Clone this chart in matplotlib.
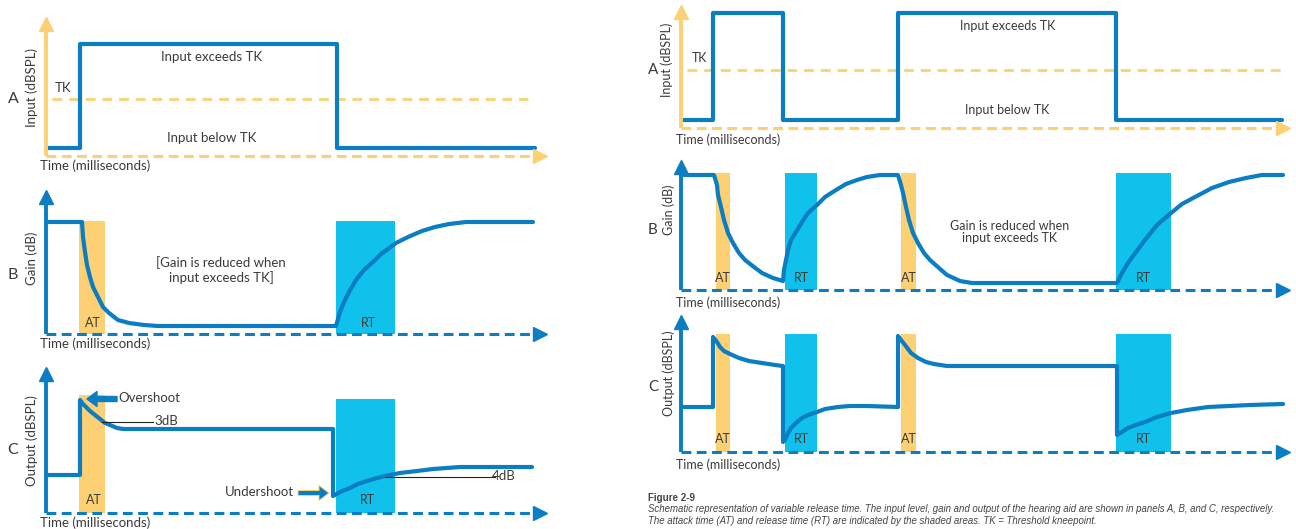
import matplotlib
matplotlib.use("Agg")
import matplotlib.pyplot as plt

W, H = 1296, 529
BLUE = "#0b7dc2"
ORANGE = "#fdd073"
CYAN = "#10c1ec"
TXT = "#3a3a3a"

plt.rcParams["font.family"] = ["Lato", "DejaVu Sans"]

# schematic units: time in ms, level in arbitrary dB steps
# ---- left column: one loud burst ----
L_IN_T = [2, 34, 291, 489]
L_IN_L = [8, 112, 8, 8]
L_TK = 57
L_GAIN_T = [2, 34, 36, 37, 39, 41, 44, 47, 52, 57, 63, 72, 83, 98, 112,
            290, 294, 298, 303, 310, 318, 327, 335, 350, 362, 376, 389, 403, 420, 487]
L_GAIN_L = [112, 112, 112, 97, 82, 69, 57, 47, 37, 27, 21, 14, 11, 9, 8,
            8, 22, 32, 42, 54, 64, 72, 80, 91, 97, 103, 107, 110, 112, 112]
L_OUT_T = [2, 34, 34, 37, 41, 44, 49, 54, 59, 64, 71, 77, 287,
           287, 294, 304, 312, 321, 331, 339, 354, 371, 387, 414, 437, 486]
L_OUT_L = [38, 38, 113, 109, 105, 102, 98, 94, 90, 88, 85, 84, 84,
           17, 21, 25, 29, 32, 35, 37, 40, 42, 44, 46, 46, 46]
L_AT = [(33, 26)]
L_RT = [(290, 59)]

# ---- right column: short burst then long burst ----
R_IN_T = [2, 32, 102, 217, 435, 601]
R_IN_L = [8, 115, 8, 115, 8, 8]
R_TK = 58
R_GAIN_T = [2, 33, 36, 37, 40, 43, 47, 52, 58, 64, 73, 81, 92, 102,
            103, 105, 107, 110, 115, 121, 127, 136, 144, 155, 165, 176, 186, 199, 217,
            220, 222, 225, 228, 232, 237, 243, 249, 258, 266, 279, 291, 436,
            441, 447, 455, 464, 476, 490, 501, 514, 531, 548, 565, 581, 602]
R_GAIN_L = [115, 115, 105, 95, 83, 70, 57, 47, 37, 30, 23, 17, 12, 9,
            20, 30, 40, 50, 58, 68, 77, 85, 93, 100, 106, 110, 113, 115, 115,
            105, 97, 83, 70, 57, 47, 37, 30, 22, 15, 9, 7, 7,
            17, 27, 38, 50, 65, 77, 86, 93, 102, 108, 112, 115, 115]
R_OUT_T = [2, 32, 32, 36, 39, 43, 49, 58, 68, 81, 94, 102,
           102, 104, 107, 110, 115, 121, 127, 136, 144, 157, 169, 186, 217,
           217, 220, 224, 230, 237, 245, 253, 266, 279, 436,
           436, 441, 447, 455, 464, 476, 490, 506, 527, 548, 569, 602]
R_OUT_L = [45, 45, 115, 110, 105, 101, 98, 94, 91, 89, 87, 86,
           10, 12, 19, 24, 29, 34, 37, 40, 43, 45, 46, 46, 45,
           116, 112, 107, 99, 94, 90, 88, 86, 86, 86,
           17, 20, 24, 27, 30, 35, 39, 42, 45, 46, 47, 48]
R_AT = [(35, 14), (220, 15)]
R_RT = [(104, 32), (435, 55)]


def panel(ox, oy, w, h, axcolor, dashed_color):
    ax = fig.add_axes([ox / W, 1 - oy / H, w / W, h / H])
    ax.set_xlim(0, w)
    ax.set_ylim(0, h)
    ax.axis("off")
    ax.plot([0, 0], [0, h - 9], color=axcolor, lw=2.8, zorder=5, clip_on=False,
            solid_capstyle="butt")
    ax.plot([0], [h - 7], marker="^", ms=10, color=axcolor, zorder=5, clip_on=False)
    ax.plot([0, w - 11], [0, 0], color=dashed_color, lw=2.2, ls=(0, (3.2, 1.8)),
            zorder=5, clip_on=False)
    ax.plot([w - 7], [0], marker=">", ms=10, color=dashed_color, zorder=5, clip_on=False)
    return ax


def shade(ax, spans, top, color):
    for start, width in spans:
        ax.bar(start, top, width=width, align="edge", color=color, lw=0, zorder=1)


def labels(ax, letter, ylab, lx, ly, yx, yy, tx, ty, fs):
    ax.text(lx, ly, letter, fontsize=fs + 2, color=TXT, ha="center", va="center")
    ax.text(yx, yy, ylab, fontsize=fs, color=TXT, rotation=90, ha="center", va="center")
    ax.text(tx, ty, "Time (milliseconds)", fontsize=fs, color=TXT, ha="left", va="center")


fig = plt.figure(figsize=(W / 100, H / 100), dpi=100)
line_kw = dict(color=BLUE, lw=3, zorder=4, solid_joinstyle="round", solid_capstyle="round")

# ---------------- left A ----------------
ax = panel(46, 156, 501, 139, ORANGE, ORANGE)
ax.plot([6, 482], [L_TK, L_TK], color=ORANGE, lw=2, ls=(0, (3.5, 2.5)), zorder=2)
ax.plot(L_IN_T, L_IN_L, drawstyle="steps-post", **line_kw)
ax.text(9, 68, "TK", fontsize=9.5, color=TXT, va="center")
ax.text(166, 99, "Input exceeds TK", fontsize=9.5, color=TXT, ha="center", va="center")
ax.text(166, 18, "Input below TK", fontsize=9.5, color=TXT, ha="center", va="center")
labels(ax, "A", "Input (dBSPL)", -33, 57, -14, 68, -6, -10, 9.5)

# ---------------- left B ----------------
ax = panel(46, 334, 501, 144, BLUE, BLUE)
shade(ax, L_AT, 113, ORANGE)
shade(ax, L_RT, 113, CYAN)
ax.plot(L_GAIN_T, L_GAIN_L, **line_kw)
ax.text(47, 11, "AT", fontsize=9, color=TXT, ha="center", va="center", zorder=6)
ax.text(322, 11, "RT", fontsize=9, color=TXT, ha="center", va="center", zorder=6)
ax.text(175, 64, "[Gain is reduced when\ninput exceeds TK]", fontsize=9.5, color=TXT,
        ha="center", va="center", linespacing=1.1)
labels(ax, "B", "Gain (dB)", -33, 59, -14, 76, -6, -10, 9.5)

# ---------------- left C ----------------
ax = panel(46, 513, 501, 146, BLUE, BLUE)
shade(ax, L_AT, 118, ORANGE)
shade(ax, L_RT, 114, CYAN)
ax.plot(L_OUT_T, L_OUT_L, **line_kw)
ax.text(48, 13, "AT", fontsize=9, color=TXT, ha="center", va="center", zorder=6)
ax.text(321, 13, "RT", fontsize=9, color=TXT, ha="center", va="center", zorder=6)
arrow = "simple,head_length=0.6,head_width=0.9,tail_width=0.3"
ax.annotate("", xy=(41, 114), xytext=(71, 114), zorder=6,
            arrowprops=dict(arrowstyle=arrow, color=BLUE, shrinkA=0, shrinkB=0,
                            mutation_scale=12))
ax.text(72, 115, "Overshoot", fontsize=9.5, color=TXT, va="center")
ax.plot([56, 107], [91, 91], color="#222222", lw=0.8, zorder=6)
ax.text(108, 92, "3dB", fontsize=9.5, color=TXT, va="center")
ax.annotate("", xy=(283, 20), xytext=(252, 20), zorder=6,
            arrowprops=dict(arrowstyle=arrow, fc=BLUE, ec=ORANGE, lw=0.7,
                            shrinkA=0, shrinkB=0, mutation_scale=12))
ax.text(248, 21, "Undershoot", fontsize=9.5, color=TXT, ha="right", va="center")
ax.plot([339, 449], [36, 36], color="#222222", lw=0.8, zorder=6)
ax.text(446, 37, "4dB", fontsize=9.5, color=TXT, va="center")
labels(ax, "C", "Output (dBSPL)", -33, 63, -14, 72, -6, -10, 9.5)

# ---------------- right A ----------------
ax = panel(681, 128, 609, 123, ORANGE, ORANGE)
ax.plot([6, 600], [R_TK, R_TK], color=ORANGE, lw=2, ls=(0, (3.5, 2.5)), zorder=2)
ax.plot(R_IN_T, R_IN_L, drawstyle="steps-post", **line_kw)
ax.text(11, 70, "TK", fontsize=9, color=TXT, va="center")
ax.text(327, 102, "Input exceeds TK", fontsize=9, color=TXT, ha="center", va="center")
ax.text(326, 18, "Input below TK", fontsize=9, color=TXT, ha="center", va="center")
labels(ax, "A", "Input (dBSPL)", -28, 58, -14, 68, -5, -12, 9)

# ---------------- right B ----------------
ax = panel(681, 290, 609, 130, BLUE, BLUE)
shade(ax, R_AT, 117, ORANGE)
shade(ax, R_RT, 117, CYAN)
ax.plot(R_GAIN_T, R_GAIN_L, **line_kw)
for start, width in R_AT:
    ax.text(start + width / 2, 12, "AT", fontsize=9, color=TXT, ha="center", va="center", zorder=6)
for start, width in R_RT:
    ax.text(start + width / 2, 12, "RT", fontsize=9, color=TXT, ha="center", va="center", zorder=6)
ax.text(329, 58, "Gain is reduced when\ninput exceeds TK", fontsize=9, color=TXT,
        ha="center", va="center", linespacing=1.1)
labels(ax, "B", "Gain (dB)", -28, 60, -12, 80, -5, -13, 9)

# ---------------- right C ----------------
ax = panel(681, 452, 609, 137, BLUE, BLUE)
shade(ax, R_AT, 118, ORANGE)
shade(ax, R_RT, 118, CYAN)
ax.plot(R_OUT_T, R_OUT_L, **line_kw)
for start, width in R_AT:
    ax.text(start + width / 2, 13, "AT", fontsize=9, color=TXT, ha="center", va="center", zorder=6)
for start, width in R_RT:
    ax.text(start + width / 2, 13, "RT", fontsize=9, color=TXT, ha="center", va="center", zorder=6)
labels(ax, "C", "Output (dBSPL)", -28, 65, -12, 79, -5, -13, 9)

# ---------------- caption ----------------
fig.text(648 / W, 1 - 498 / H, "Figure 2-9", fontsize=7, fontweight="bold",
         color="#444444", va="center", family="Liberation Sans")
fig.text(648 / W, 1 - 509.5 / H,
         "Schematic representation of variable release time. The input level, gain and output "
         "of the hearing aid are shown in panels A, B, and C, respectively.",
         fontsize=6.9, style="italic", color="#444444", va="center", family="Liberation Sans")
fig.text(648 / W, 1 - 521 / H,
         "The attack time (AT) and release time (RT) are indicated by the shaded areas. "
         "TK = Threshold kneepoint.",
         fontsize=6.9, style="italic", color="#444444", va="center", family="Liberation Sans")

fig.savefig("out.png", dpi=100)
